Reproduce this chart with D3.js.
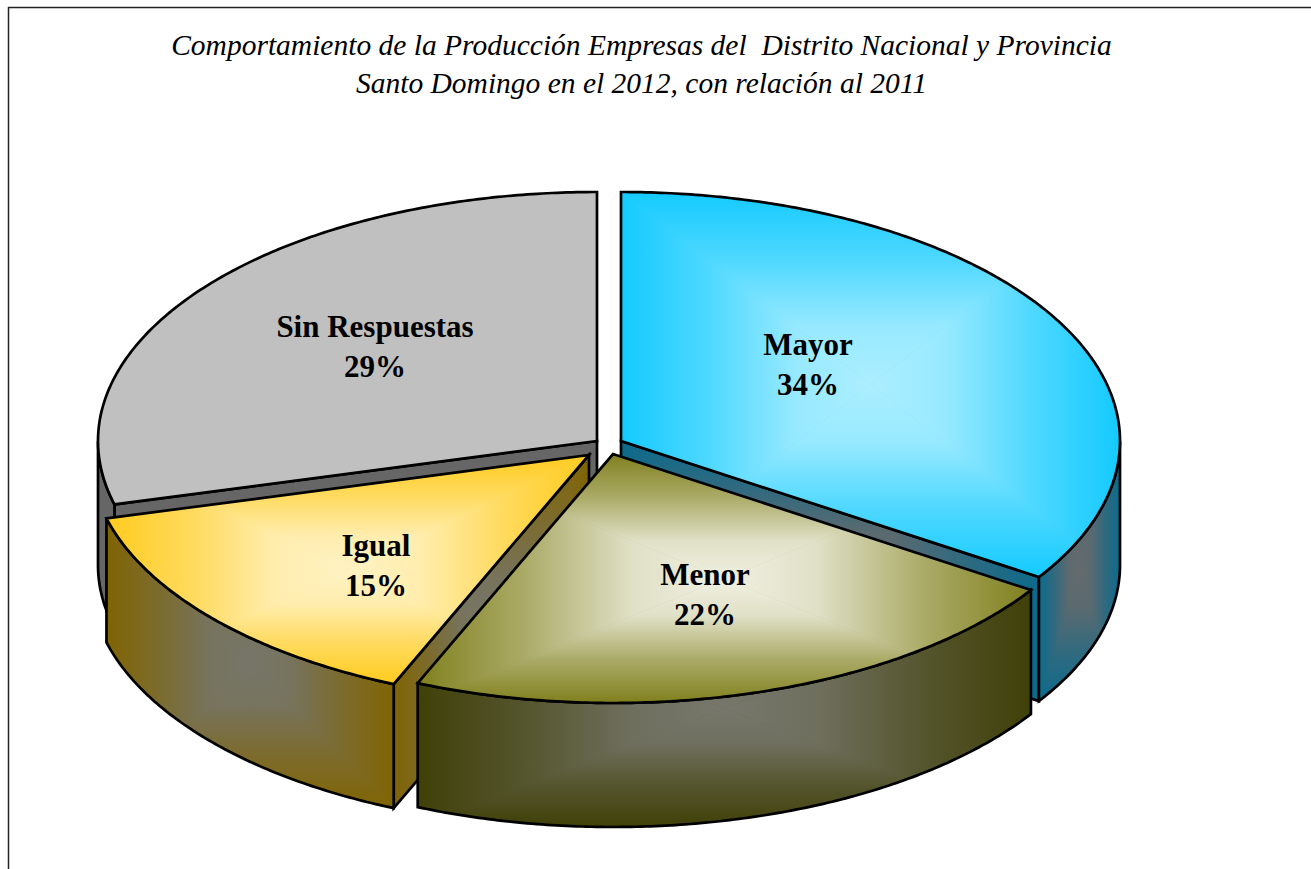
<!DOCTYPE html>
<meta charset="utf-8">
<style>
  html, body { margin: 0; padding: 0; background: #fff; }
  svg { display: block; }
  .title { font: italic 29.5px "Liberation Serif", serif; fill: #000; text-anchor: middle; white-space: pre; }
  .label { font: bold 31px "Liberation Serif", serif; fill: #000; text-anchor: middle; }
  .edge { fill: none; stroke: #000; stroke-width: 2.7px; stroke-linejoin: miter; }
</style>
<body>
<script src="https://d3js.org/d3.v7.min.js"></script>
<script>
var titleLines = ["Comportamiento de la Producción Empresas del  Distrito Nacional y Provincia",
  "Santo Domingo en el 2012, con relación al 2011"];
var categories = ["Mayor", "Menor", "Igual", "Sin Respuestas"];
var values = [34.2, 22.2, 14.5, 29.1];

var topEdge = ["#14caff", "#80801e", "#ffcb1e", "#c0c0c0"];
var topMid = ["#aceeff", "#f0f0e2", "#fff3c4", "#c0c0c0"];
var sideEdge = ["#0c6a8c", "#404008", "#806404", "#666666"];
var sideMid = ["#666a6c", "#77776c", "#76766a", "#666666"];

var width = 1311,
  height = 869,
  rx = 499,
  ry = 249,
  depth = 124;

// apex of each slice once pulled out of the pie
var apex = [[621, 441], [613, 454], [589, 455], [597, 441]];
var labelAt = [[808, 355], [705, 585], [376, 556], [375, 337]];
var lineGap = 39.5;
var drawOrder = [3, 0, 2, 1];
// how the colour moves from box edge to box centre
var ramp = [[0, 0], [0.35, 0.38], [0.7, 0.86], [1, 1]];

var svg = d3.select("body").append("svg")
  .attr("width", width)
  .attr("height", height);
var defs = svg.append("defs");

svg.append("path")
  .attr("d", d3.line()([[8.5, height], [8.5, 7.5], [width, 7.5]]))
  .attr("fill", "none")
  .attr("stroke", "#222")
  .attr("stroke-width", 1.5);

svg.selectAll(".title")
  .data(titleLines)
  .enter().append("text")
  .attr("class", "title")
  .attr("x", 641.5)
  .attr("y", function(d, i) { return 55 + i * 38; })
  .text(function(d) { return d; });

var arcs = d3.pie().sort(null).value(function(d) { return d; })(values);
var line = d3.line();

function rim(c, a, z) {
  return [c[0] + rx * Math.sin(a), c[1] - ry * Math.cos(a) + (z || 0)];
}

function sweep(c, a0, a1, z) {
  var n = Math.max(2, Math.ceil((a1 - a0) / 0.01));
  return d3.range(n + 1).map(function(k) {
    return rim(c, a0 + (a1 - a0) * k / n, z);
  });
}

var clipId = 0;

// rectangular "path gradient": four triangles running from the box edge to its centre
function boxFill(g, pts, edge, mid) {
  var id = "c" + (clipId++);
  var x = d3.extent(pts, function(p) { return p[0]; }),
    y = d3.extent(pts, function(p) { return p[1]; }),
    cx = (x[0] + x[1]) / 2,
    cy = (y[0] + y[1]) / 2;
  var d = line(pts) + "Z";
  var mix = d3.interpolateRgb(edge, mid);

  defs.append("clipPath").attr("id", id).append("path").attr("d", d);
  g.append("path").attr("d", d).attr("fill", edge);

  if (edge === mid) return d;

  var box = g.append("g").attr("clip-path", "url(#" + id + ")");
  var sides = [
    { tri: [[x[0], y[0]], [x[1], y[0]]], from: [cx, y[0]] },
    { tri: [[x[1], y[0]], [x[1], y[1]]], from: [x[1], cy] },
    { tri: [[x[1], y[1]], [x[0], y[1]]], from: [cx, y[1]] },
    { tri: [[x[0], y[1]], [x[0], y[0]]], from: [x[0], cy] }
  ];
  sides.forEach(function(s, i) {
    var gid = id + "g" + i;
    var lg = defs.append("linearGradient")
      .attr("id", gid)
      .attr("gradientUnits", "userSpaceOnUse")
      .attr("x1", s.from[0]).attr("y1", s.from[1])
      .attr("x2", cx).attr("y2", cy);
    ramp.forEach(function(r) {
      lg.append("stop").attr("offset", r[0]).attr("stop-color", mix(r[1]));
    });
    box.append("path")
      .attr("d", line([s.tri[0], s.tri[1], [cx, cy]]) + "Z")
      .attr("fill", "url(#" + gid + ")")
      .attr("stroke", "url(#" + gid + ")")
      .attr("stroke-width", 0.6);
  });
  return d;
}

function cutFace(g, i, a) {
  var c = apex[i], r = rim(c, a);
  var pts = [c, r, [r[0], r[1] + depth], [c[0], c[1] + depth]];
  var d = boxFill(g, pts, sideEdge[i], sideMid[i]);
  g.append("path").attr("class", "edge").attr("d", d);
}

drawOrder.forEach(function(i) {
  var s = arcs[i], c = apex[i];
  var g = svg.append("g");

  // a face cut by the slice only shows when it turns towards the viewer
  if (s.startAngle > Math.PI) cutFace(g, i, s.startAngle);
  if (s.endAngle < Math.PI) cutFace(g, i, s.endAngle);

  // outer wall, front half of the ellipse only
  var a0 = Math.max(s.startAngle, Math.PI / 2),
    a1 = Math.min(s.endAngle, Math.PI * 1.5);
  if (a1 > a0) {
    var wall = sweep(c, a0, a1).concat(sweep(c, a0, a1, depth).reverse());
    var wd = boxFill(g, wall, sideEdge[i], sideMid[i]);
    g.append("path").attr("class", "edge").attr("d", wd);
  }

  var top = [c].concat(sweep(c, s.startAngle, s.endAngle));
  var td = boxFill(g, top, topEdge[i], topMid[i]);
  g.append("path").attr("class", "edge").attr("d", td);
});

var labels = svg.selectAll(".label")
  .data(categories)
  .enter().append("text")
  .attr("class", "label")
  .attr("x", function(d, i) { return labelAt[i][0]; })
  .attr("y", function(d, i) { return labelAt[i][1]; });

labels.append("tspan")
  .text(function(d) { return d; });
labels.append("tspan")
  .attr("x", function(d, i) { return labelAt[i][0]; })
  .attr("dy", lineGap)
  .text(function(d, i) { return Math.round(values[i]) + "%"; });
</script>
</body>
